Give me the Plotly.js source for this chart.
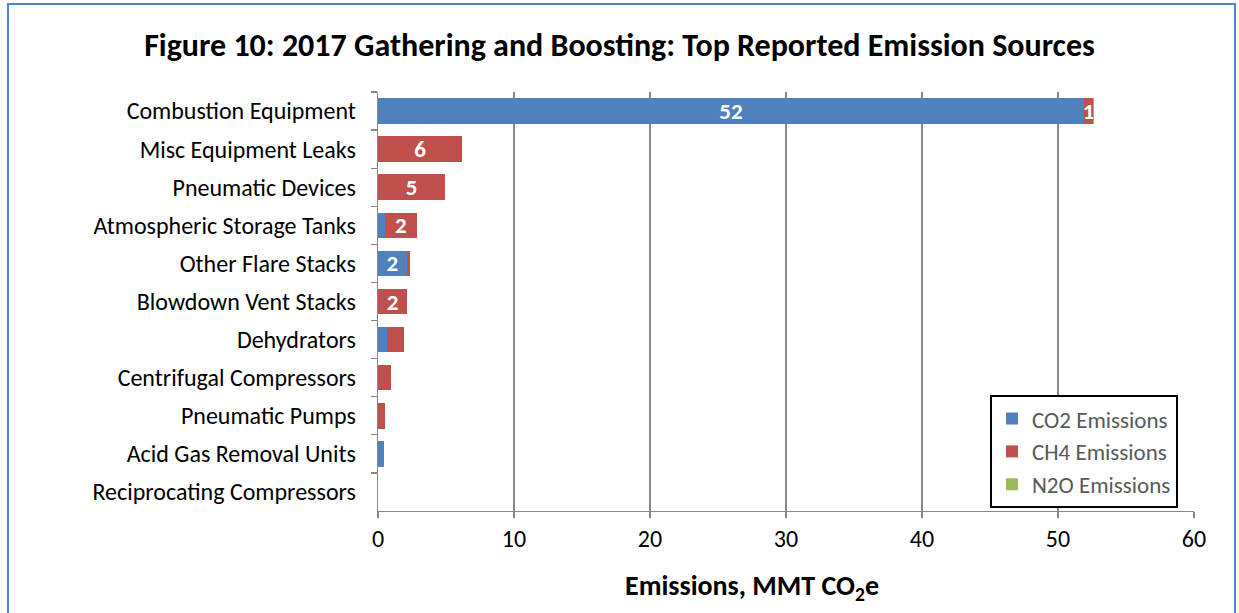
<!DOCTYPE html>
<html>
<head>
<meta charset="utf-8">
<script src="https://cdn.plot.ly/plotly-3.0.1.min.js"></script>
<style>
  html, body { margin: 0; padding: 0; background: #fff; }
  #wrap { position: relative; width: 1239px; height: 613px; overflow: hidden; }
  #chart { width: 1239px; height: 613px; }
  #frame { position: absolute; left: 7px; top: 3px; width: 1229px; height: 640px;
           border: 2px solid #4a86c8; box-sizing: border-box; pointer-events: none; }
</style>
</head>
<body>
<div id="wrap">
  <div id="chart"></div>
  <div id="frame"></div>
</div>
<script>
// ---- data ----
const categories = [
  "Combustion Equipment",
  "Misc Equipment Leaks",
  "Pneumatic Devices",
  "Atmospheric Storage Tanks",
  "Other Flare Stacks",
  "Blowdown Vent Stacks",
  "Dehydrators",
  "Centrifugal Compressors",
  "Pneumatic Pumps",
  "Acid Gas Removal Units",
  "Reciprocating Compressors"
];
const co2Values = [51.9, 0.03, 0.0, 0.52, 2.12, 0.03, 0.64, 0.01, 0.0, 0.44, 0.005];
const ch4Values = [0.70, 6.15, 4.92, 2.33, 0.20, 2.09, 1.25, 0.95, 0.49, 0.0, 0.01];
const n2oValues = [0.05, 0.0, 0.0, 0.0, 0.02, 0.0, 0.0, 0.0, 0.0, 0.0, 0.0];
const co2Labels = ["52", "", "", "", "2", "", "", "", "", "", ""];
const ch4Labels = ["1", "6", "5", "2", "", "2", "", "", "", "", ""];
const n2oLabels = ["", "", "", "", "", "", "", "", "", "", ""];
const seriesNames = ["CO2 Emissions", "CH4 Emissions", "N2O Emissions"];
const xTickValues = [0, 10, 20, 30, 40, 50, 60];
const chartTitle = "Figure 10: 2017 Gathering and Boosting: Top Reported Emission Sources";
const xAxisTitle = "Emissions, MMT CO<sub>2</sub>e";

// ---- styles ----
const FONT = "Carlito, Lato, 'Open Sans', sans-serif";
const colors = ["#4f81bd", "#c0504d", "#9bbb59"];
const gridColor = "#878787";

function mk(name, vals, labels, color) {
  return {
    type: "bar",
    orientation: "h",
    name: name,
    y: categories,
    x: vals,
    text: labels,
    textposition: "inside",
    insidetextanchor: "middle",
    textangle: 0,
    constraintext: "none",
    cliponaxis: false,
    textfont: { family: FONT, size: 23, color: "#ffffff", weight: "bold" },
    marker: { color: color, line: { width: 0 } },
    hoverinfo: "x+name"
  };
}

const data = [
  mk(seriesNames[0], co2Values, co2Labels, colors[0]),
  mk(seriesNames[1], ch4Values, ch4Labels, colors[1]),
  mk(seriesNames[2], n2oValues, n2oLabels, colors[2])
];

const layout = {
  width: 1239,
  height: 613,
  margin: { l: 378, r: 45, t: 92, b: 102, pad: 0 },
  paper_bgcolor: "#ffffff",
  plot_bgcolor: "#ffffff",
  barmode: "stack",
  bargap: 0.33,
  font: { family: FONT, color: "#000000", size: 24 },
  title: {
    text: "<b>" + chartTitle + "</b>",
    font: { family: FONT, size: 32, color: "#000000" },
    x: 0.5, xanchor: "center",
    y: 1 - 45 / 613, yanchor: "middle", yref: "container"
  },
  xaxis: {
    range: [0, 60],
    tickvals: xTickValues,
    ticktext: xTickValues.map(String),
    showgrid: true,
    gridcolor: gridColor,
    gridwidth: 1.3,
    zeroline: false,
    showline: true,
    linecolor: gridColor,
    linewidth: 1.3,
    ticks: "outside",
    ticklen: 6,
    tickcolor: gridColor,
    tickwidth: 1.3,
    tickfont: { family: FONT, size: 24, color: "#000000" },
    fixedrange: true
  },
  yaxis: {
    type: "category",
    categoryorder: "array",
    categoryarray: categories,
    autorange: "reversed",
    showgrid: false,
    zeroline: false,
    showline: true,
    linecolor: gridColor,
    linewidth: 1.3,
    ticks: "outside",
    tickson: "boundaries",
    ticklen: 6,
    tickcolor: gridColor,
    tickwidth: 1.3,
    ticklabelstandoff: 16,
    tickfont: { family: FONT, size: 24, color: "#000000" },
    fixedrange: true
  },
  annotations: [{
    text: "<b>" + xAxisTitle + "</b>",
    xref: "paper", yref: "paper",
    x: (752 - 378) / 816, xanchor: "center",
    y: -(587 - 511) / 419, yanchor: "middle",
    showarrow: false,
    font: { family: FONT, size: 28, color: "#000000" }
  }],
  legend: {
    x: 0.75, xanchor: "left",
    y: 0.007, yanchor: "bottom",
    bgcolor: "#ffffff",
    bordercolor: "#000000",
    borderwidth: 2,
    traceorder: "normal",
    font: { family: FONT, size: 23, color: "#595959" },
    itemwidth: 30
  },
  showlegend: true
};

Plotly.newPlot("chart", data, layout, { displayModeBar: false, staticPlot: true });
</script>
</body>
</html>
